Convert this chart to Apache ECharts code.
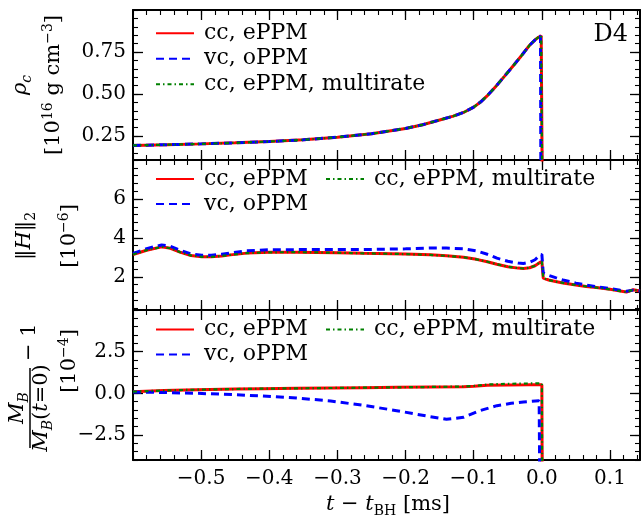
<!DOCTYPE html>
<html><head><meta charset="utf-8">
<script src="https://cdn.jsdelivr.net/npm/echarts@6/dist/echarts.min.js"></script>
<style>html,body{margin:0;padding:0;background:#fff}#c{width:642px;height:517px}</style>
</head><body><div id="c"></div>
<script>
const FONT = 'DejaVu Serif';

// ---- axes ----
const xRange = [-0.6, 0.144];
const xMajor = [-0.5, -0.4, -0.3, -0.2, -0.1, 0.0, 0.1];
const xTickLabels = ['−0.5', '−0.4', '−0.3', '−0.2', '−0.1', '0.0', '0.1'];
const xMinorStep = 0.02;

const y1Range = [0.107, 1.0];
const y1Major = [0.25, 0.5, 0.75];
const y1TickLabels = ['0.25', '0.50', '0.75'];
const y1MinorStep = 0.05;

const y2Range = [0.3, 8];
const y2Major = [2, 4, 6];
const y2TickLabels = ['2', '4', '6'];
const y2MinorStep = 0.4;

const y3Range = [-4, 5];
const y3Major = [-2.5, 0, 2.5];
const y3TickLabels = ['−2.5', '0.0', '2.5'];
const y3MinorStep = 0.5;

const seriesNames = ['cc, ePPM', 'vc, oPPM', 'cc, ePPM, multirate'];

// ---- panel 1: rho_c ----
const tRho  = [-0.6, -0.55, -0.5, -0.45, -0.4, -0.35, -0.3, -0.25, -0.2, -0.175, -0.15, -0.13, -0.115, -0.1, -0.09, -0.08, -0.067, -0.055, -0.042, -0.03, -0.018, -0.01, -0.005, -0.001, 0.0, 0.0005];
const rhoCC = [0.194, 0.198, 0.203, 0.209, 0.217, 0.227, 0.243, 0.263, 0.295, 0.317, 0.345, 0.368, 0.390, 0.422, 0.452, 0.490, 0.548, 0.605, 0.668, 0.728, 0.790, 0.822, 0.838, 0.847, 0.85, 0.0];
const tRhoVC = [-0.6, -0.55, -0.5, -0.45, -0.4, -0.35, -0.3, -0.25, -0.2, -0.175, -0.15, -0.13, -0.115, -0.1, -0.09, -0.08, -0.067, -0.055, -0.042, -0.03, -0.018, -0.01, -0.005, -0.002, -0.0015];
const rhoVC = [0.194, 0.198, 0.203, 0.209, 0.217, 0.227, 0.243, 0.263, 0.295, 0.317, 0.345, 0.368, 0.390, 0.422, 0.452, 0.490, 0.548, 0.605, 0.668, 0.728, 0.790, 0.822, 0.838, 0.845, 0.0];
const rhoMR = [0.194, 0.198, 0.203, 0.209, 0.217, 0.227, 0.243, 0.263, 0.295, 0.317, 0.345, 0.368, 0.390, 0.422, 0.452, 0.490, 0.548, 0.605, 0.668, 0.728, 0.790, 0.822, 0.838, 0.847, 0.85, 0.0];

// ---- panel 2: ||H||_2 ----
const tH  = [-0.6, -0.58, -0.558, -0.545, -0.531, -0.515, -0.499, -0.485, -0.47, -0.457, -0.433, -0.4, -0.36, -0.3, -0.262, -0.2, -0.164, -0.14, -0.115, -0.096, -0.08, -0.066, -0.05, -0.035, -0.027, -0.018, -0.01, -0.003, 0.0, 0.002, 0.01, 0.02, 0.031, 0.05, 0.065, 0.08, 0.1, 0.115, 0.124, 0.134, 0.144];
const hCC = [3.15, 3.37, 3.54, 3.47, 3.27, 3.10, 3.03, 3.03, 3.07, 3.13, 3.22, 3.26, 3.27, 3.24, 3.21, 3.17, 3.13, 3.08, 3.01, 2.90, 2.78, 2.65, 2.52, 2.45, 2.43, 2.47, 2.57, 2.74, 2.78, 1.94, 1.84, 1.76, 1.69, 1.58, 1.51, 1.45, 1.36, 1.27, 1.22, 1.34, 1.28];
const hVC = [3.20, 3.45, 3.64, 3.57, 3.37, 3.18, 3.11, 3.11, 3.16, 3.23, 3.34, 3.39, 3.40, 3.40, 3.40, 3.44, 3.48, 3.48, 3.44, 3.33, 3.16, 2.96, 2.80, 2.71, 2.69, 2.75, 2.88, 3.12, 3.15, 2.20, 2.08, 1.96, 1.84, 1.68, 1.58, 1.50, 1.40, 1.31, 1.26, 1.32, 1.28];
const hMR = [3.15, 3.37, 3.54, 3.47, 3.27, 3.10, 3.03, 3.03, 3.07, 3.13, 3.22, 3.26, 3.27, 3.24, 3.21, 3.17, 3.13, 3.08, 3.01, 2.90, 2.78, 2.65, 2.52, 2.45, 2.43, 2.47, 2.57, 2.74, 2.78, 1.94, 1.84, 1.76, 1.69, 1.58, 1.51, 1.45, 1.36, 1.27, 1.22, 1.34, 1.28];

// ---- panel 3: M_B/M_B(t=0) - 1 ----
const tM  = [-0.6, -0.555, -0.506, -0.45, -0.41, -0.36, -0.31, -0.262, -0.213, -0.164, -0.115, -0.1, -0.08, -0.05, -0.02, -0.003, 0.0, 0.0005];
const mCC = [0.10, 0.17, 0.22, 0.26, 0.28, 0.30, 0.32, 0.34, 0.36, 0.38, 0.40, 0.42, 0.48, 0.50, 0.51, 0.52, 0.52, -6];
const mMR = [0.10, 0.17, 0.22, 0.26, 0.28, 0.30, 0.32, 0.34, 0.36, 0.38, 0.41, 0.44, 0.53, 0.57, 0.59, 0.60, 0.60, -6];
const tMVC = [-0.6, -0.555, -0.506, -0.45, -0.41, -0.36, -0.31, -0.262, -0.213, -0.164, -0.14, -0.115, -0.091, -0.066, -0.045, -0.027, -0.004, -0.003];
const mVC  = [0.08, 0.05, 0.0, -0.08, -0.16, -0.28, -0.46, -0.72, -1.04, -1.40, -1.56, -1.44, -1.04, -0.74, -0.60, -0.52, -0.44, -6];

// ---- helpers ----
function ticksFrom(r, step) {
  const out = [];
  const k0 = Math.ceil(r[0] / step - 1e-9), k1 = Math.floor(r[1] / step + 1e-9);
  for (let k = k0; k <= k1; k++) out.push(+(k * step).toFixed(6));
  return out;
}
function labelFor(majors, labels) {
  return v => { for (let i = 0; i < majors.length; i++) if (Math.abs(majors[i] - v) < 1e-6) return labels[i]; return ''; };
}
function axisSet(dim, grid, range, majors, labels, minorStep, showLabels) {
  const pos = dim === 'x' ? ['bottom', 'top'] : ['left', 'right'];
  const minors = ticksFrom(range, minorStep);
  const list = [];
  pos.forEach((p, pi) => {
    list.push({
      type: 'value', gridIndex: grid, position: p, min: range[0], max: range[1],
      axisLine: { show: true, onZero: false, lineStyle: { color: '#000', width: 2 } },
      axisTick: { show: true, inside: true, length: 10, customValues: majors, lineStyle: { color: '#000', width: 1.3 } },
      axisLabel: { show: showLabels && pi === 0, customValues: majors, formatter: labelFor(majors, labels),
        fontFamily: FONT, fontSize: 20, color: '#000', margin: dim === 'x' ? 9 : 7, lineHeight: 20 },
      splitLine: { show: false }, minorTick: { show: false }, splitArea: { show: false }
    });
    list.push({
      type: 'value', gridIndex: grid, position: p, min: range[0], max: range[1],
      axisLine: { show: false, onZero: false },
      axisTick: { show: true, inside: true, length: 5, customValues: minors, lineStyle: { color: '#000', width: 1.1 } },
      axisLabel: { show: false }, splitLine: { show: false }
    });
  });
  return list;
}
function pairs(t, v) { return t.map((x, i) => [x, v[i]]); }

const styles = [
  { color: '#ff0000', width: 3, type: 'solid' },
  { color: '#0000ff', width: 3, type: [8, 5] },
  { color: '#008000', width: 2.2, type: [4, 3, 1.5, 3] }
];
function mkSeries(k, g, data) {
  return {
    type: 'line', name: seriesNames[k], xAxisIndex: 4 * g, yAxisIndex: 4 * g, data: data,
    showSymbol: false, symbol: 'none', smooth: false, z: 2 + k, animation: false,
    lineStyle: { color: styles[k].color, width: styles[k].width, type: styles[k].type },
    itemStyle: { color: styles[k].color }
  };
}
function leg(k, left, cy) {
  return {
    data: [seriesNames[k]], left: left, top: cy - 12, orient: 'horizontal', padding: 0,
    itemWidth: 38, itemHeight: 14, itemGap: 0, selectedMode: false,
    itemStyle: { opacity: 0, borderWidth: 0 },
    textStyle: { fontFamily: FONT, fontSize: 22, color: '#000', lineHeight: 24, padding: [0, 0, 0, 5] }
  };
}

const grids = [
  { left: 133, right: 2, top: 10, height: 150 },
  { left: 133, right: 2, top: 160, height: 150 },
  { left: 133, right: 2, top: 310, height: 150 }
];
grids.forEach(g => { g.outerBoundsMode = 'none'; g.containLabel = false; });

const xAxes = [].concat(
  axisSet('x', 0, xRange, xMajor, xTickLabels, xMinorStep, false),
  axisSet('x', 1, xRange, xMajor, xTickLabels, xMinorStep, false),
  axisSet('x', 2, xRange, xMajor, xTickLabels, xMinorStep, true)
);
const yAxes = [].concat(
  axisSet('y', 0, y1Range, y1Major, y1TickLabels, y1MinorStep, true),
  axisSet('y', 1, y2Range, y2Major, y2TickLabels, y2MinorStep, true),
  axisSet('y', 2, y3Range, y3Major, y3TickLabels, y3MinorStep, true)
);

const series = [
  mkSeries(0, 0, pairs(tRho, rhoCC)), mkSeries(1, 0, pairs(tRhoVC, rhoVC)), mkSeries(2, 0, pairs(tRho, rhoMR)),
  mkSeries(0, 1, pairs(tH, hCC)), mkSeries(1, 1, pairs(tH, hVC)), mkSeries(2, 1, pairs(tH, hMR)),
  mkSeries(0, 2, pairs(tM, mCC)), mkSeries(1, 2, pairs(tMVC, mVC)), mkSeries(2, 2, pairs(tM, mMR))
];

const legends = [
  leg(0, 155, 33.3), leg(1, 155, 58.7), leg(2, 155, 84.3),
  leg(0, 155, 179), leg(2, 325, 179), leg(1, 155, 204),
  leg(0, 155, 329.5), leg(2, 325, 329.5), leg(1, 155, 354.5)
];

const R = Math.PI / 2;
const richBase = {
  n: { fontFamily: FONT, fontSize: 21, lineHeight: 26, fill: '#000' },
  i: { fontFamily: FONT, fontSize: 21, lineHeight: 26, fontStyle: 'italic', fill: '#000' },
  s: { fontFamily: FONT, fontSize: 14, lineHeight: 14, verticalAlign: 'bottom', fill: '#000' },
  si: { fontFamily: FONT, fontSize: 14, lineHeight: 14, verticalAlign: 'bottom', fontStyle: 'italic', fill: '#000' },
  u: { fontFamily: FONT, fontSize: 14, lineHeight: 14, verticalAlign: 'top', fill: '#000' }
};
function rt(text, x, y, rot, extra) {
  return Object.assign({
    type: 'text', x: x, y: y, rotation: rot,
    style: { text: text, rich: richBase, align: 'center', verticalAlign: 'middle', font: '21px ' + FONT, fill: '#000' }
  }, extra || {});
}

const graphics = [
  { type: 'text', x: 628, y: 35, style: { text: 'D4', font: '24px ' + FONT, fill: '#000', align: 'right', verticalAlign: 'middle' } },
  rt('{i|ρ}{si|c}', 21, 85, R),
  rt('{n|[10}{u|16}{n| g cm}{u|−3}{n|]}', 54, 85, R),
  rt('{n|‖}{i|H}{n|‖}{s|2}', 25, 236, R),
  rt('{n|[10}{u|−6}{n|]}', 70, 236, R),
  rt('{n|[10}{u|−4}{n|]}', 70, 361, R),
  {
    type: 'group', x: 30, y: 408, rotation: R,
    children: [
      { type: 'text', x: 0, y: -12, style: { text: '{i|M}{si|B}', rich: richBase, align: 'center', verticalAlign: 'middle' } },
      { type: 'line', shape: { x1: -40, y1: 0, x2: 40, y2: 0 }, style: { stroke: '#000', lineWidth: 1.5 } },
      { type: 'text', x: 0, y: 12, style: { text: '{i|M}{si|B}{n|(}{i|t}{n|=0)}', rich: richBase, align: 'center', verticalAlign: 'middle' } },
      { type: 'text', x: 47, y: 0, style: { text: '{n|− 1}', rich: richBase, align: 'left', verticalAlign: 'middle' } }
    ]
  },
  rt('{i|t}{n| − }{i|t}{s|BH}{n| [ms]}', 388, 505, 0)
];

const chart = echarts.init(document.getElementById('c'), null, { renderer: 'canvas' });
chart.setOption({
  animation: false,
  backgroundColor: '#fff',
  grid: grids,
  xAxis: xAxes,
  yAxis: yAxes,
  legend: legends,
  series: series,
  graphic: { elements: graphics }
});
</script></body></html>
